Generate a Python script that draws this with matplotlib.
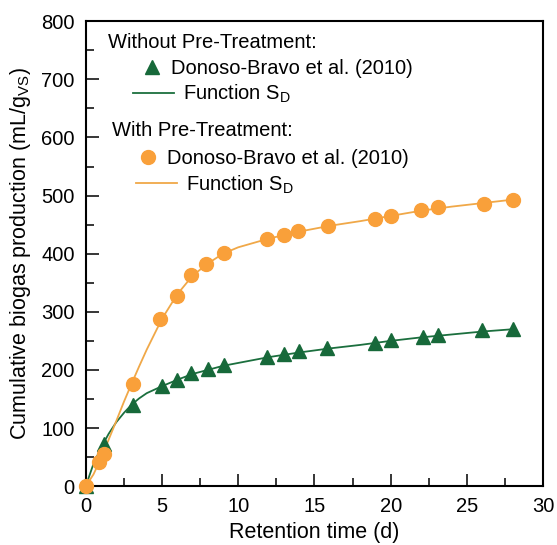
import matplotlib
matplotlib.use("Agg")
import matplotlib.pyplot as plt
from matplotlib.legend import Legend
from matplotlib.ticker import MultipleLocator

plt.rcParams['font.family'] = ['Liberation Sans', 'DejaVu Sans']
plt.rcParams['mathtext.default'] = 'regular'

# measured points, Donoso-Bravo et al. (2010)
t_without = [0, 1.2, 3.1, 5.0, 6.0, 6.9, 8.0, 9.1, 11.9, 13.0, 14.0, 15.8, 19.0, 20.0, 22.1, 23.1, 26.0, 28.0]
y_without = [0, 73, 139, 172, 182, 194, 202, 209, 223, 227, 233, 237, 247, 251, 257, 260, 268, 271]

t_with = [0, 0.9, 1.2, 3.1, 4.9, 6.0, 6.9, 7.9, 9.1, 11.9, 13.0, 13.9, 15.9, 19.0, 20.0, 22.0, 23.1, 26.1, 28.0]
y_with = [0, 42, 55, 175, 287, 327, 364, 382, 402, 425, 433, 439, 447, 459, 465, 476, 481, 485, 492]

# function S_D curves
t_fit = [0, 0.5, 1, 1.5, 2, 2.5, 3, 3.5, 4, 5, 6, 7, 8, 9, 10, 12, 14, 16, 18, 20, 22, 24, 26, 28]
fit_without = [0, 38, 66, 90, 110, 126, 140, 151, 160, 172, 183, 193, 200, 207, 212, 222, 230, 237, 243, 250, 256, 261, 266, 270]
fit_with = [0, 20, 48, 80, 112, 145, 176, 206, 235, 288, 330, 362, 383, 400, 411, 426, 438, 448, 456, 465, 474, 481, 487, 493]

green = '#17693a'
green_line = '#1b6f3e'
orange = '#f9a03a'
orange_line = '#f0a848'
fs_leg = 14.5

fig = plt.figure(figsize=(5.57, 5.45), dpi=100)
ax = fig.add_axes([0.154, 0.108, 0.821, 0.853])

ax.plot(t_fit, fit_without, color=green_line, lw=1.3, zorder=2)
ax.plot(t_fit, fit_with, color=orange_line, lw=1.3, zorder=2)
ax.plot(t_without, y_without, ls='none', marker='^', ms=10, color=green, mec=green, clip_on=False, zorder=3)
ax.plot(t_with, y_with, ls='none', marker='o', ms=10, color=orange, mec=orange, clip_on=False, zorder=4)

ax.set_xlim(0, 30)
ax.set_ylim(0, 800)
ax.xaxis.set_major_locator(MultipleLocator(5))
ax.xaxis.set_minor_locator(MultipleLocator(2.5))
ax.yaxis.set_major_locator(MultipleLocator(100))
ax.yaxis.set_minor_locator(MultipleLocator(50))
ax.tick_params(which='both', direction='in', top=False, right=False, labelsize=14.5, width=1.1, pad=8)
ax.tick_params(which='major', length=9)
ax.tick_params(which='minor', length=6)
for s in ax.spines.values():
    s.set_linewidth(1.5)

ax.set_xlabel('Retention time (d)', fontsize=15.5, labelpad=4)
ax.set_ylabel('Cumulative biogas production (mL/g$_{VS}$)', fontsize=15.5, labelpad=6)


def key(handle, label, x, y, hl):
    # one legend row, anchored at the left end of its key
    leg = Legend(ax, [handle], [label], loc='center left', bbox_to_anchor=(x, y),
                 frameon=False, fontsize=fs_leg, handlelength=hl, handletextpad=0.45,
                 borderpad=0, borderaxespad=0)
    ax.add_artist(leg)


ax.text(0.048, 0.942, 'Without Pre-Treatment:', transform=ax.transAxes, fontsize=fs_leg, va='baseline')
h1, = ax.plot([], [], ls='none', marker='^', ms=10, color=green)
h2, = ax.plot([], [], color=green_line, lw=1.3)
key(h1, 'Donoso-Bravo et al. (2010)', 0.1225, 0.899, 1.0)
key(h2, 'Function S$_D$', 0.1028, 0.843, 2.05)

ax.text(0.057, 0.753, 'With Pre-Treatment:', transform=ax.transAxes, fontsize=fs_leg, va='baseline')
h3, = ax.plot([], [], ls='none', marker='o', ms=10, color=orange)
h4, = ax.plot([], [], color=orange_line, lw=1.3)
key(h3, 'Donoso-Bravo et al. (2010)', 0.1138, 0.705, 1.0)
key(h4, 'Function S$_D$', 0.1094, 0.649, 2.05)

fig.savefig('out.png', dpi=100)
